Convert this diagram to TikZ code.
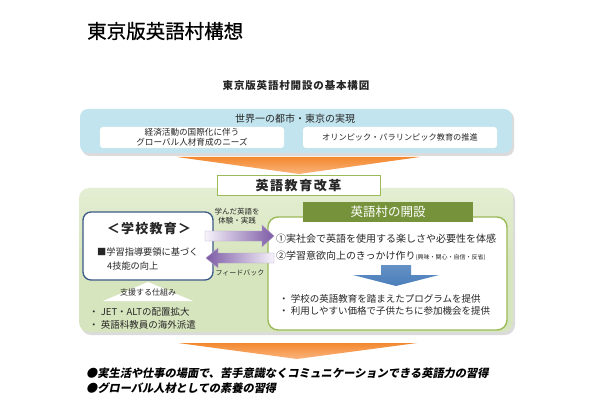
\documentclass[tikz,border=0pt]{standalone}
\usepackage{fontspec}
\setmainfont{Noto Sans CJK JP}
\newfontfamily\jpit[FakeSlant=0.2]{Noto Sans CJK JP}
\newfontfamily\jptitle[FakeBold=0.6]{Noto Sans CJK JP}
\definecolor{skyb}{HTML}{C1E4EF}
\definecolor{orgA}{HTML}{F3892F}
\definecolor{orgB}{HTML}{FAB47E}
\definecolor{grnbg}{HTML}{D7E5BE}
\definecolor{grnbgL}{HTML}{E4EED3}
\definecolor{grnln}{HTML}{9BBB59}
\definecolor{grnhd}{HTML}{76933C}
\definecolor{navy}{HTML}{3B5A86}
\definecolor{purD}{HTML}{7D5BA6}
\definecolor{purL}{HTML}{F6F3FA}
\definecolor{purB}{HTML}{B3A2C7}
\definecolor{bluA}{HTML}{4A7EBB}
\definecolor{txt}{HTML}{262626}
\tikzset{
  lbl/.style={inner sep=0pt, text=txt},
  fs/.style={font=\fontsize{#1}{#1}\selectfont},
  shadowfill/.style={fill=black!14},
}
\begin{document}
\begin{tikzpicture}[x=1pt,y=-1pt]
\useasboundingbox (0,0) rectangle (600,417);
\fill[white] (0,0) rectangle (600,417);

% title
\node[lbl, anchor=west, text=black, font=\fontsize{19.5}{20}\selectfont\jptitle] (title) at (87,31) {東京版英語村構想};
\node[lbl, font=\fontsize{10.5}{11}\selectfont\bfseries\addfontfeature{LetterSpace=8}] (sub) at (296,86) {東京版英語村開設の基本構図};

% blue top box
\fill[shadowfill, rounded corners=8pt] (82,111) rectangle (514,156);
\fill[skyb, rounded corners=8pt] (80,109) rectangle (512,153);
\node[lbl, fs=10] (world) at (295,118.5) {世界一の都市・東京の実現};
\fill[white, rounded corners=3pt] (100,127) rectangle (284,148);
\fill[white, rounded corners=3pt] (303,127) rectangle (497,148);
\node[lbl, fs=8.6, align=center] (need) at (192,137.5) {経済活動の国際化に伴う\\[1pt]グローバル人材育成のニーズ};
\node[lbl, fs=8.2] (olym) at (400,137.5) {オリンピック・パラリンピック教育の推進};

% top orange arrow
\shade[top color=orgA, bottom color=orgB] (177,157) -- (420,157) -- (299,174) -- cycle;

% green big box
\fill[shadowfill, rounded corners=10pt] (81,190) rectangle (515,335);
\shade[rounded corners=10pt, top color=grnbgL, bottom color=grnbg, middle color=grnbg] (79,188) rectangle (513,332);

% reform box
\node[draw=grnln, line width=1pt, fill=white, minimum width=163pt, minimum height=20pt, inner sep=0pt,
      font=\fontsize{13}{13}\selectfont\bfseries\addfontfeature{LetterSpace=12}, text=txt] (reform) at (298.5,186) {英語教育改革};

% school box
\draw[navy, line width=1.3pt, fill=white, rounded corners=8pt] (83,212) rectangle (213,280);
\node[lbl, font=\fontsize{13}{13}\selectfont\bfseries\addfontfeature{LetterSpace=10}] (school) at (149,229) {＜学校教育＞};
\node[lbl, fs=9.2, anchor=west] (guide) at (97,252) {■学習指導要領に基づく};
\node[lbl, fs=9.2, anchor=west] (skill) at (107,266) {4技能の向上};

% support arrow
\fill[white] (148,282) -- (193,301) -- (103,301) -- cycle;
\node[lbl, fs=8] (support) at (148,292) {支援する仕組み};
\node[lbl, fs=9.5, anchor=west] (jet) at (89,312) {・ JET・ALTの配置拡大};
\node[lbl, fs=9.5, anchor=west] (abroad) at (89,324.5) {・ 英語科教員の海外派遣};

% village box
\draw[grnln, line width=1.4pt, fill=white, rounded corners=10pt] (268,217) rectangle (507,330);
\node[fill=grnhd, minimum width=170pt, minimum height=20pt, inner sep=0pt,
      font=\fontsize{12.5}{13}\selectfont, text=white] (village) at (388,212) {英語村の開設};
\node[lbl, fs=10, anchor=west] (p1) at (276,238.5) {①実社会で英語を使用する楽しさや必要性を体感};
\node[lbl, fs=10, anchor=west] (p2) at (276,255.5) {②学習意欲向上のきっかけ作り{\fontsize{6}{6}\selectfont (興味・関心・自信・反省)}};

% blue arrow
\shade[top color=bluA!85, bottom color=bluA] (381,265) -- (411,265) -- (411,275) -- (439,275) -- (396,286) -- (353,275) -- (381,275) -- cycle;

\node[lbl, fs=9.5, anchor=west] (b1) at (279,298.5) {・ 学校の英語教育を踏まえたプログラムを提供};
\node[lbl, fs=9.5, anchor=west] (b2) at (279,310.5) {・ 利用しやすい価格で子供たちに参加機会を提供};

% purple arrows
\shade[left color=purL, right color=purD, draw=purB, line width=0.4pt]
  (205,231) -- (262,231) -- (262,225) -- (274,236) -- (262,247) -- (262,241) -- (205,241) -- cycle;
\shade[left color=purD, right color=purL, draw=purB, line width=0.4pt]
  (274,253) -- (218,253) -- (218,248) -- (206,258) -- (218,268) -- (218,263) -- (274,263) -- cycle;
\node[lbl, fs=7.5, align=center] (learn) at (237,216.5) {学んだ英語を\\[1.5pt]体験・実践};
\node[lbl, fs=7] (fb) at (240,273) {フィードバック};

% bottom orange arrow
\shade[top color=orgA, bottom color=orgB] (178,343) -- (417,343) -- (297,359) -- cycle;

% bottom text
\node[lbl, anchor=west, text=black, font=\fontsize{11.2}{12}\selectfont\jpit\bfseries] (g1) at (86,373) {●実生活や仕事の場面で、苦手意識なくコミュニケーションできる英語力の習得};
\node[lbl, anchor=west, text=black, font=\fontsize{11.2}{12}\selectfont\jpit\bfseries] (g2) at (86,388) {●グローバル人材としての素養の習得};
\end{tikzpicture}
\end{document}
